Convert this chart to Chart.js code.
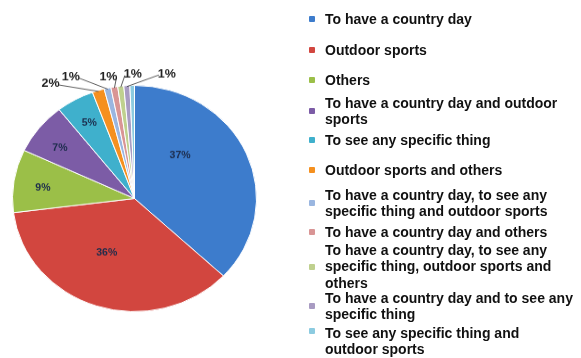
<!DOCTYPE html>
<html>
<head>
<meta charset="utf-8">
<script src="https://cdn.jsdelivr.net/npm/chart.js@4.4.1/dist/chart.umd.min.js"></script>
<style>
  html, body { margin: 0; padding: 0; background: #fff; }
  #wrap { position: relative; width: 581px; height: 358px; overflow: hidden; }
  /* pie is drawn round, then flattened a little to match the tilted look */
  #pie { position: absolute; left: 0; top: 0; transform: scaleY(0.927); transform-origin: 0 198.5px; }
  #legend { position: absolute; left: 0; top: 0; width: 581px; height: 358px; pointer-events: none;
    font-family: "Liberation Sans", Arial, sans-serif; font-weight: bold; font-size: 14px; color: #111; }
  .item { position: absolute; left: 325px; line-height: 16.7px; white-space: nowrap; }
  .box { position: absolute; left: -16px; width: 6px; height: 6px; border-radius: 1px; }
</style>
</head>
<body>
<div id="wrap">
  <canvas id="pie" width="581" height="358"></canvas>
  <div id="legend"></div>
</div>
<script>
// Categories (legend text, line breaks as in the picture)
const categories = [
  ['To have a country day'],
  ['Outdoor sports'],
  ['Others'],
  ['To have a country day and outdoor', 'sports'],
  ['To see any specific thing'],
  ['Outdoor sports and others'],
  ['To have a country day, to see any', 'specific thing and outdoor sports'],
  ['To have a country day and others'],
  ['To have a country day, to see any', 'specific thing, outdoor sports and', 'others'],
  ['To have a country day and to see any', 'specific thing'],
  ['To see any specific thing and', 'outdoor sports']
];

// Share of answers, percent
const shares = [37, 36, 9, 7.4, 5, 1.6, 0.9, 0.9, 0.8, 0.8, 0.6];

// Percent labels as printed on the chart
const pctLabels = ['37%', '36%', '9%', '7%', '5%', '2%', '1%', '1%', '1%', '1%', ''];

const colors = ['#3d7ccc', '#d2463f', '#9bbf48', '#7c5ca6', '#3fb0cc', '#f5901f',
                '#9ab6e0', '#d99595', '#bfd08e', '#a89bc2', '#8ccbe0'];

// legend layout: top of each item block and marker offset from block top
const legendTop = [10.5, 41.5, 71.5, 94.5, 131.5, 161.5, 186.5, 223.5, 241.5, 289.5, 324.5];
const boxOffset = [5, 5, 5, 13, 5, 5, 13, 5, 22, 13, 3];

// nudges for the inside labels (the picture's pie is tilted)
const labelNudge = [[-16, -20], [-7, -5], [0, 3], [-2, 3], [0, 0]];

// callout offsets for the small slices (label relative to slice edge)
const callouts = {
  5: { dx: -48, dy: -7 },
  6: { dx: -37, dy: -12 },
  7: { dx: -6, dy: -11 },
  8: { dx: 12, dy: -12.5 },
  9: { dx: 40, dy: -12.5 }
};

// Build legend
const legendEl = document.getElementById('legend');
categories.forEach((lines, i) => {
  const d = document.createElement('div');
  d.className = 'item';
  d.style.top = legendTop[i] + 'px';
  d.innerHTML = lines.join('<br>');
  const b = document.createElement('span');
  b.className = 'box';
  b.style.top = boxOffset[i] + 'px';
  b.style.background = colors[i];
  d.appendChild(b);
  legendEl.appendChild(d);
});

// Plugin to draw percentage labels and callouts
const pctPlugin = {
  id: 'pctPlugin',
  afterDatasetsDraw(chart) {
    const ctx = chart.ctx;
    const arcs = chart.getDatasetMeta(0).data;
    ctx.save();
    ctx.textAlign = 'center';
    ctx.textBaseline = 'middle';
    arcs.forEach((arc, i) => {
      const text = pctLabels[i];
      if (!text) return;
      const p = arc.getProps(['x', 'y', 'startAngle', 'endAngle', 'outerRadius']);
      const mid = (p.startAngle + p.endAngle) / 2;
      if (callouts[i]) {
        const ax = p.x + Math.cos(mid) * (p.outerRadius - 1);
        const ay = p.y + Math.sin(mid) * (p.outerRadius - 1);
        const lx = ax + callouts[i].dx;
        const ly = ay + callouts[i].dy;
        ctx.strokeStyle = '#333';
        ctx.lineWidth = 0.8;
        ctx.beginPath();
        ctx.moveTo(ax, ay);
        ctx.lineTo(lx + (callouts[i].dx < 0 ? 8 : -8), ly);
        ctx.stroke();
        ctx.font = 'bold 12.5px "Liberation Sans", Arial, sans-serif';
        ctx.fillStyle = '#222';
        ctx.fillText(text, lx, ly - 1);
      } else {
        const f = shares[i] > 20 ? 0.55 : 0.76;
        const r = p.outerRadius * f;
        const n = labelNudge[i];
        ctx.font = 'bold 10.5px "Liberation Sans", Arial, sans-serif';
        ctx.fillStyle = '#1c2c4c';
        ctx.fillText(text, p.x + Math.cos(mid) * r + n[0], p.y + Math.sin(mid) * r + n[1]);
      }
    });
    ctx.restore();
  }
};

new Chart(document.getElementById('pie'), {
  type: 'pie',
  data: {
    labels: categories.map(l => l.join(' ')),
    datasets: [{
      data: shares,
      backgroundColor: colors,
      borderColor: '#ffffff',
      borderWidth: 1
    }]
  },
  options: {
    responsive: false,
    animation: false,
    layout: { padding: { left: 12, top: 76, bottom: 37, right: 324 } },
    plugins: {
      legend: { display: false },
      tooltip: { enabled: false }
    }
  },
  plugins: [pctPlugin]
});
</script>
</body>
</html>
